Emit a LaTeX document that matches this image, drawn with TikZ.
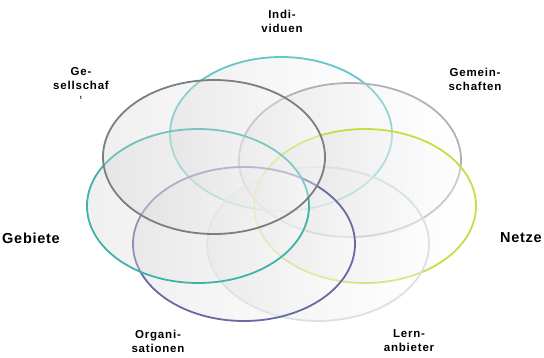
\documentclass[tikz,border=0pt]{standalone}
\usepackage{fontspec}
\setmainfont{Liberation Sans}
\newfontfamily\labfont{Liberation Sans}[LetterSpace=7]
\newfontfamily\biglabfont{Liberation Sans}[LetterSpace=5]
\definecolor{ringteal}{RGB}{95,200,200}
\definecolor{ringgreen}{RGB}{65,178,168}
\definecolor{ringdark}{RGB}{125,125,125}
\definecolor{ringgray}{RGB}{178,178,182}
\definecolor{ringlime}{RGB}{198,222,70}
\definecolor{ringviolet}{RGB}{105,105,165}
\definecolor{ringpale}{RGB}{215,225,232}

\begin{document}
\begin{tikzpicture}[x=1pt,y=-1pt,
		lab/.style={font=\labfont\bfseries\fontsize{11.5}{14}\selectfont, align=center},
		biglab/.style={font=\biglabfont\bfseries\fontsize{14.5}{16}\selectfont},
		ring/.style={line width=1.8pt, left color=gray!35, right color=white, fill opacity=0.35}]
				\useasboundingbox (0,0) rectangle (544,358);
				% rings, back to front
				\foreach \cx/\cy/\col in {281/134/ringteal,350/160/ringgray,365/206/ringlime,318/244/ringpale,
					244/244/ringviolet,198/206/ringgreen,214/157/ringdark} {
					\shadedraw[ring, draw=\col] (\cx,\cy) ellipse [x radius=111, y radius=77];
				}
				% labels
				\node[lab] (indiv) at (282,21) {Indi-\\viduen};
				\node[lab] (gesell) at (81,79) {Ge-\\sellschaf};
				\node[font=\bfseries\fontsize{5}{5}\selectfont] (gesellt) at (81,98) {t};
				\node[lab] (gemein) at (475,79) {Gemein-\\schaften};
				\node[biglab] (gebiet) at (31,238) {Gebiete};
				\node[biglab] (netze) at (521,238) {Netze};
				\node[lab] (organi) at (158,341) {Organi-\\sationen};
				\node[lab] (lern) at (409,341) {Lern-\\anbieter};
			\end{tikzpicture}
\end{document}
